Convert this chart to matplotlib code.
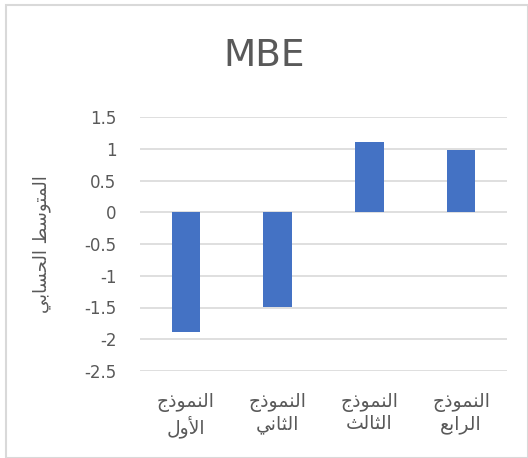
import matplotlib
matplotlib.use("Agg")
import matplotlib.pyplot as plt
from matplotlib.patches import Rectangle

# Data (Arabic text written in shaped, visual-order presentation forms so it renders joined, right-to-left)
categories = [
    "\uFE9D\uFEAB\uFEEE\uFEE4\uFEE8\uFEDF\uFE8D\n\uFEDD\uFEED\uFEF7\uFE8D",          # النموذج الأول
    "\uFE9D\uFEAB\uFEEE\uFEE4\uFEE8\uFEDF\uFE8D\n\uFEF2\uFEE7\uFE8E\uFE9C\uFEDF\uFE8D",  # النموذج الثاني
    "\uFE9D\uFEAB\uFEEE\uFEE4\uFEE8\uFEDF\uFE8D\n\uFE9A\uFEDF\uFE8E\uFE9C\uFEDF\uFE8D",  # النموذج الثالث
    "\uFE9D\uFEAB\uFEEE\uFEE4\uFEE8\uFEDF\uFE8D\n\uFECA\uFE91\uFE8D\uFEAE\uFEDF\uFE8D",  # النموذج الرابع
]
values = [-1.88, -1.49, 1.11, 0.98]
yticks = [1.5, 1, 0.5, 0, -0.5, -1, -1.5, -2, -2.5]
ytick_labels = ["1.5", "1", "0.5", "0", "-0.5", "-1", "-1.5", "-2", "-2.5"]
title = "MBE"
ylabel = "\uFEF2\uFE91\uFE8E\uFEB4\uFEA4\uFEDF\uFE8D \uFEC2\uFEB3\uFEEE\uFE98\uFEE4\uFEDF\uFE8D"  # المتوسط الحسابي

plt.rcParams['font.family'] = ['DejaVu Sans']
text_color = "#595959"

fig = plt.figure(figsize=(5.28, 4.58), dpi=100)
fig.patches.append(Rectangle((6/528, 0.5/458), 1 - 6.5/528, 1 - 5.5/458, transform=fig.transFigure,
                             fill=False, edgecolor="#d9d9d9", linewidth=1.5))

ax = fig.add_axes([140/528, 1 - 371/458, 367/528, 254/458])
x = range(len(values))
ax.bar(x, values, width=0.31, color="#4472c4", zorder=3)
ax.set_xlim(-0.5, len(values) - 0.5)
ax.set_ylim(-2.5, 1.5)
ax.set_yticks(yticks)
ax.set_yticklabels(ytick_labels, fontsize=12, color=text_color)
ax.set_xticks(list(x))
ax.set_xticklabels(categories, fontsize=13.5, color=text_color, linespacing=1.15)
ax.tick_params(axis='both', length=0)
ax.tick_params(axis='y', pad=17)
ax.tick_params(axis='x', pad=16)
ax.grid(axis='y', color="#d9d9d9", linewidth=1.2, zorder=0)
for s in ax.spines.values():
    s.set_visible(False)

ax.set_ylabel(ylabel, fontsize=13, color=text_color, labelpad=24)
fig.text(0.5, 1 - 56/458, title, ha='center', va='center', fontsize=27, color=text_color)

fig.savefig("out.png", dpi=100)
